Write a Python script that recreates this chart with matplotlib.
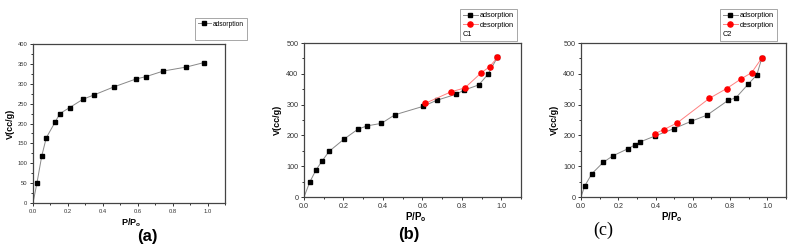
import matplotlib
matplotlib.use("Agg")
import matplotlib.pyplot as plt
from matplotlib.ticker import MultipleLocator

plt.rcParams['font.family'] = ['Liberation Sans', 'DejaVu Sans']
plt.rcParams['mathtext.fontset'] = 'custom'
plt.rcParams['mathtext.rm'] = 'Liberation Sans'
plt.rcParams['mathtext.bf'] = 'Liberation Sans:bold'

# (a) adsorption only
a_ads_x = [0.0, 0.023, 0.05, 0.076, 0.126, 0.154, 0.21, 0.286, 0.35, 0.463, 0.59, 0.648, 0.747, 0.878, 0.977]
a_ads_y = [0, 51, 118, 164, 203, 225, 240, 261, 272, 292, 312, 318, 332, 342, 353]

# (b) C1
b_ads_x = [0.0, 0.029, 0.061, 0.093, 0.127, 0.203, 0.273, 0.32, 0.392, 0.461, 0.602, 0.673, 0.768, 0.812, 0.886, 0.932, 0.98]
b_ads_y = [0, 48, 88, 118, 148, 188, 220, 231, 239, 267, 294, 314, 333, 347, 364, 398, 453]
b_des_x = [0.614, 0.747, 0.815, 0.898, 0.941, 0.98]
b_des_y = [304, 342, 354, 403, 423, 453]

# (c) C2
c_ads_x = [0.0, 0.02, 0.059, 0.12, 0.172, 0.253, 0.291, 0.318, 0.397, 0.499, 0.592, 0.677, 0.79, 0.831, 0.898, 0.943, 0.971]
c_ads_y = [0, 36, 76, 113, 134, 157, 170, 179, 198, 222, 246, 266, 314, 322, 367, 396, 452]
c_des_x = [0.397, 0.445, 0.517, 0.688, 0.781, 0.858, 0.916, 0.971]
c_des_y = [206, 219, 241, 320, 352, 383, 404, 452]

W, H = 800, 248
fig = plt.figure(figsize=(W / 100, H / 100), dpi=100)


def box(l, t, r, b):
    return [l / W, 1 - b / H, (r - l) / W, (b - t) / H]


def style(ax, ymax, ystep, tsize):
    ax.set_xlim(0, 1.1)
    ax.set_ylim(0, ymax)
    ax.xaxis.set_major_locator(MultipleLocator(0.2))
    ax.xaxis.set_minor_locator(MultipleLocator(0.1))
    ax.yaxis.set_major_locator(MultipleLocator(ystep))
    ax.yaxis.set_minor_locator(MultipleLocator(ystep / 2))
    ax.tick_params(which='both', direction='out', top=False, right=False,
                   labelsize=tsize, pad=1.5, width=0.7, colors='#333333')
    ax.tick_params(which='major', length=2.5)
    ax.tick_params(which='minor', length=1.5)
    for s in ax.spines.values():
        s.set_linewidth(0.9)
        s.set_color('#444444')


def legend(ax, handles, extra, x0, y0, fs):
    leg = ax.legend(handles=handles, title=extra, loc='upper left',
                    bbox_to_anchor=(x0 / W, 1 - y0 / H), bbox_transform=fig.transFigure,
                    borderaxespad=0, fontsize=fs, title_fontsize=fs, handlelength=2.0,
                    handletextpad=0.3, labelspacing=0.35, borderpad=0.4,
                    fancybox=False, edgecolor='#999999', framealpha=1, alignment='left')
    leg.get_frame().set_linewidth(0.6)
    # put the extra line (sample name) under the entries
    pk = leg._legend_box
    pk._children = pk._children[::-1]
    return leg


ms = 3.2

# panel (a)
ax1 = fig.add_axes(box(33, 44, 225, 203))
l1, = ax1.plot(a_ads_x, a_ads_y, '-s', color='#888888', lw=0.7, ms=ms, mfc='black', mec='black',
               markevery=slice(1, None), label='adsorption')
style(ax1, 400, 50, 4.2)
ax1.set_ylabel('V(cc/g)', fontsize=6.5, fontweight='bold', labelpad=2)
fig.text(131 / W, 1 - 223 / H, r'$\mathbf{P/P_o}$', fontsize=6.5, ha='center', va='center')
fig.text(147 / W, 1 - 236 / H, '(a)', fontsize=12, fontweight='bold', ha='center', va='center')
legend(ax1, [l1], ' ', 195, 18, 4.8)

# panel (b)
ax2 = fig.add_axes(box(304, 43, 521, 197))
l2, = ax2.plot(b_ads_x, b_ads_y, '-s', color='#888888', lw=0.7, ms=ms, mfc='black', mec='black',
               markevery=slice(1, None), label='adsorption')
l3, = ax2.plot(b_des_x, b_des_y, '-o', color='#ff8080', lw=0.7, ms=ms + 0.5, mfc='red', mec='red',
               label='desorption')
style(ax2, 500, 100, 5.2)
ax2.set_ylabel('V(cc/g)', fontsize=6.5, fontweight='bold', labelpad=3)
fig.text(416 / W, 1 - 217 / H, r'$\mathbf{P/P_o}$', fontsize=7, ha='center', va='center')
fig.text(409 / W, 1 - 235 / H, '(b)', fontsize=12, fontweight='bold', ha='center', va='center')
legend(ax2, [l2, l3], 'C1', 460, 9, 5.3)

# panel (c)
ax3 = fig.add_axes(box(581, 43, 786, 197))
l4, = ax3.plot(c_ads_x, c_ads_y, '-s', color='#888888', lw=0.7, ms=ms, mfc='black', mec='black',
               markevery=slice(1, None), label='adsorption')
l5, = ax3.plot(c_des_x, c_des_y, '-o', color='#ff8080', lw=0.7, ms=ms + 0.5, mfc='red', mec='red',
               label='desorption')
style(ax3, 500, 100, 5.2)
ax3.set_ylabel('V(cc/g)', fontsize=6.5, fontweight='bold', labelpad=3)
fig.text(672 / W, 1 - 217 / H, r'$\mathbf{P/P_o}$', fontsize=7, ha='center', va='center')
fig.text(603 / W, 1 - 230 / H, '(c)', fontsize=13, family='Liberation Serif', ha='center', va='center')
legend(ax3, [l4, l5], 'C2', 720, 9, 5.3)

fig.savefig('out.png', dpi=100)
